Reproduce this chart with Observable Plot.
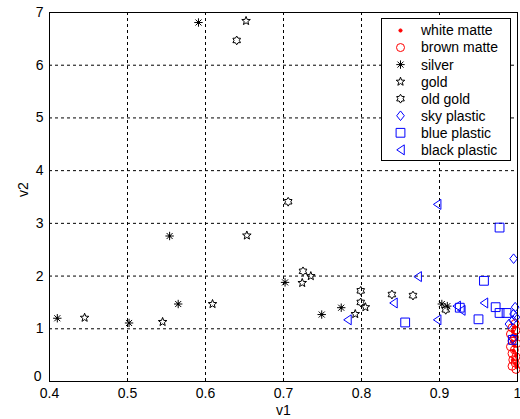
<!DOCTYPE html>
<html><head><meta charset="utf-8">
<script src="https://cdn.jsdelivr.net/npm/d3@7"></script>
<script src="https://cdn.jsdelivr.net/npm/@observablehq/plot@0.6"></script>
<style>
body{margin:0;background:#fff;}
#wrap{position:relative;width:520px;height:419px;font-family:"Liberation Sans",Arial,sans-serif;}
#wrap svg{display:block;}
#legend{position:absolute;left:0;top:0;}
</style></head>
<body><div id="wrap"></div>
<script>
const xTicks = [0.4, 0.5, 0.6, 0.7, 0.8, 0.9, 1];
const xTickLabels = ["0.4", "0.5", "0.6", "0.7", "0.8", "0.9", "1"];
const yTicks = [0, 1, 2, 3, 4, 5, 6, 7];
const yTickLabels = ["0", "1", "2", "3", "4", "5", "6", "7"];
const seriesNames = ["white matte", "brown matte", "silver", "gold", "old gold", "sky plastic", "blue plastic", "black plastic"];
const seriesColors = ["#ff0000", "#ff0000", "#000000", "#000000", "#000000", "#0000ff", "#0000ff", "#0000ff"];

const whiteMatte = [[0.996,1.03],[0.994,0.95],[0.997,0.86],[0.993,0.76],[0.996,0.68],[0.995,0.58],[0.998,0.49],[0.994,0.41],[0.997,0.34],[0.999,0.27]];
const brownMatte = [[0.997,1.10],[0.993,1.02],[0.998,0.97],[0.991,0.90],[0.996,0.84],[0.993,0.77],[0.999,0.72],[0.991,0.66],[0.996,0.60],[0.993,0.53],[0.998,0.47],[0.994,0.41],[0.997,0.35],[0.993,0.29],[0.998,0.23]];
const silver = [[0.410,1.20],[0.502,1.11],[0.554,2.76],[0.565,1.47],[0.591,6.81],[0.702,1.88],[0.749,1.27],[0.774,1.40],[0.903,1.47],[0.910,1.43]];
const gold = [[0.445,1.21],[0.545,1.13],[0.609,1.47],[0.653,2.77],[0.652,6.84],[0.724,1.87],[0.735,2.00],[0.792,1.28],[0.805,1.41]];
const oldGold = [[0.640,6.47],[0.706,3.41],[0.725,2.09],[0.799,1.72],[0.799,1.50],[0.839,1.65],[0.866,1.63],[0.908,1.36]];
const skyPlastic = [[0.995,2.33],[0.997,1.41],[0.995,1.28],[0.994,1.16],[0.989,1.09],[0.994,0.81],[0.998,1.22]];
const bluePlastic = [[0.977,2.92],[0.957,1.91],[0.856,1.12],[0.950,1.18],[0.926,1.40],[0.972,1.41],[0.977,1.30],[0.986,1.30],[0.994,0.79]];
const blackPlastic = [[0.897,3.36],[0.872,1.99],[0.841,1.49],[0.782,1.17],[0.897,1.17],[0.922,1.43],[0.928,1.35],[0.957,1.49]];

const seriesData = [whiteMatte, brownMatte, silver, gold, oldGold, skyPlastic, bluePlastic, blackPlastic];

// custom symbol shapes (R derived from size = r*r*PI)
const rad = s => Math.sqrt(s / Math.PI);
const poly = (ctx, pts) => { ctx.moveTo(pts[0][0], pts[0][1]); for (let i = 1; i < pts.length; i++) ctx.lineTo(pts[i][0], pts[i][1]); ctx.closePath(); };
const starPts = (R, r, n) => { const p = []; for (let i = 0; i < 2 * n; i++) { const a = -Math.PI / 2 + i * Math.PI / n; const rr = i % 2 ? r : R; p.push([rr * Math.cos(a), rr * Math.sin(a)]); } return p; };
const symPoint = {draw(ctx, s){ const R = rad(s); ctx.moveTo(R, 0); ctx.arc(0, 0, R, 0, 2 * Math.PI); }};
const symCircle = {draw(ctx, s){ const R = rad(s); ctx.moveTo(R, 0); ctx.arc(0, 0, R, 0, 2 * Math.PI); }};
const symAsterisk = {draw(ctx, s){ const R = rad(s); const d = R * 0.72;
  ctx.moveTo(-R, 0); ctx.lineTo(R, 0); ctx.moveTo(0, -R); ctx.lineTo(0, R);
  ctx.moveTo(-d, -d); ctx.lineTo(d, d); ctx.moveTo(-d, d); ctx.lineTo(d, -d);
  ctx.moveTo(0.9, 0); ctx.arc(0, 0, 0.9, 0, 2 * Math.PI); }};
const symPentagram = {draw(ctx, s){ const R = rad(s); poly(ctx, starPts(R, R * 0.42, 5)); }};
const symHexagram = {draw(ctx, s){ const R = rad(s); poly(ctx, starPts(R, R * 0.6, 6)); }};
const symDiamond = {draw(ctx, s){ const R = rad(s); poly(ctx, [[0, -R], [R * 0.8, 0], [0, R], [-R * 0.8, 0]]); }};
const symSquare = {draw(ctx, s){ const R = rad(s); poly(ctx, [[-R, -R], [R, -R], [R, R], [-R, R]]); }};
const symLeft = {draw(ctx, s){ const R = rad(s); poly(ctx, [[-R * 0.75, 0], [R * 0.75, -R], [R * 0.75, R]]); }};

const seriesSymbols = [symPoint, symCircle, symAsterisk, symPentagram, symHexagram, symDiamond, symSquare, symLeft];
const seriesR = [1.6, 4, 4.2, 4.5, 4.4, 4.8, 4.4, 5];
const seriesFilled = [true, false, false, false, false, false, false, false];

const FONT = '"Liberation Sans", Arial, sans-serif';

const dotMarks = seriesData.map((data, i) => Plot.dot(data, {
  x: d => d[0], y: d => d[1],
  symbol: seriesSymbols[i], r: seriesR[i],
  stroke: seriesColors[i], fill: seriesFilled[i] ? seriesColors[i] : "none",
  strokeWidth: 1
}));

const yFmt = d => yTickLabels[yTicks.indexOf(d)];

const chart = Plot.plot({
  width: 520, height: 419,
  marginLeft: 49, marginRight: 3, marginTop: 12, marginBottom: 38,
  x: {domain: [0.4, 1]},
  y: {domain: [0, 7]},
  style: {fontFamily: FONT, fontSize: "14px", background: "#fff", color: "#000", overflow: "visible"},
  marks: [
    Plot.ruleX(xTicks, {stroke: "#000", strokeWidth: 1, strokeDasharray: "3,3"}),
    Plot.ruleY(yTicks, {stroke: "#000", strokeWidth: 1, strokeDasharray: "3,3"}),
    ...dotMarks,
    Plot.frame({stroke: "#000", strokeWidth: 1}),
    Plot.axisX({ticks: xTicks, tickSize: 0, tickPadding: 7, tickFormat: d => xTickLabels[xTicks.indexOf(d)], label: null, fontSize: 14}),
    Plot.axisY({ticks: yTicks.slice(1), tickSize: 0, tickPadding: 6, tickFormat: yFmt, label: null, fontSize: 14}),
    Plot.axisY({ticks: yTicks.slice(0, 1), tickSize: 0, tickPadding: 8, dy: -5, tickFormat: yFmt, label: null, fontSize: 14}),
    Plot.text(["v1"], {frameAnchor: "bottom", dy: 33, text: d => d, fontSize: 14}),
    Plot.text(["v2"], {frameAnchor: "left", dx: -26, rotate: -90, text: d => d, fontSize: 14})
  ]
});

const wrap = document.getElementById("wrap");
wrap.appendChild(chart);

// legend overlay
const svgNS = "http://www.w3.org/2000/svg";
const leg = document.createElementNS(svgNS, "svg");
leg.setAttribute("id", "legend");
leg.setAttribute("width", 520);
leg.setAttribute("height", 419);
leg.style.position = "absolute"; leg.style.left = "0"; leg.style.top = "0";
const rect = document.createElementNS(svgNS, "rect");
rect.setAttribute("x", 381.5); rect.setAttribute("y", 18.5);
rect.setAttribute("width", 129); rect.setAttribute("height", 142);
rect.setAttribute("fill", "#fff"); rect.setAttribute("stroke", "#000");
leg.appendChild(rect);
seriesNames.forEach((name, i) => {
  const cy = 30.5 + 17.05 * i;
  const p = document.createElementNS(svgNS, "path");
  p.setAttribute("d", d3.symbol(seriesSymbols[i], seriesR[i] * seriesR[i] * Math.PI)());
  p.setAttribute("transform", `translate(400.5,${cy})`);
  p.setAttribute("stroke", seriesColors[i]);
  p.setAttribute("fill", seriesFilled[i] ? seriesColors[i] : "none");
  leg.appendChild(p);
  const t = document.createElementNS(svgNS, "text");
  t.setAttribute("x", 421); t.setAttribute("y", cy);
  t.setAttribute("dy", "0.35em");
  t.setAttribute("font-family", FONT); t.setAttribute("font-size", "14");
  t.setAttribute("fill", "#000");
  t.textContent = name;
  leg.appendChild(t);
});
wrap.appendChild(leg);
</script>
</body></html>
